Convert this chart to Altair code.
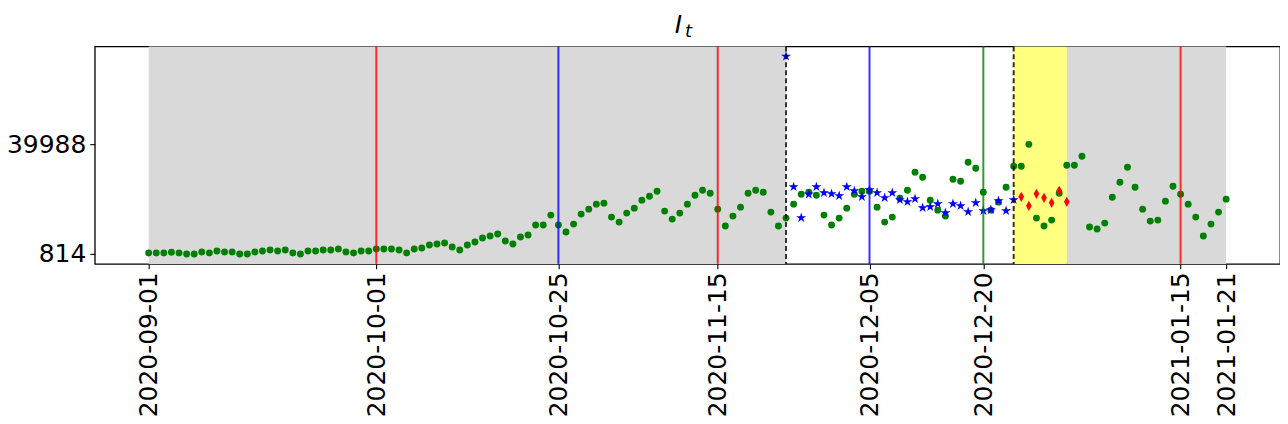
import altair as alt
import pandas as pd

# ---- data ----
start = "2020-09-01"
green_values = [
    # Sep
    1170, 1170, 1170, 1408, 1170, 814, 814, 1526, 1170, 1882,
    1526, 1526, 814, 814, 1526, 1882, 2238, 1882, 2238, 1170,
    814, 1882, 1882, 2238, 2238, 2595, 1526, 1170, 1882, 1882,
    # Oct
    2595, 2595, 2595, 2238, 1170, 2595, 2951, 4019, 4375, 4731,
    3307, 2238, 4019, 5087, 6512, 7224, 7936, 5443, 4375, 6868,
    7580, 11141, 11141, 14702, 11141, 8648, 11497, 15058, 16839, 18619,
    18975,
    # Nov
    13990, 12209, 15414, 17195, 20043, 21468, 23248, 16127, 13278, 15414,
    18619, 21824, 23604, 22536, 16839, 10785, 14346, 17551, 22536, 23604,
    22892, 15770, 10785, 13634, 18619, 22180, 22892, 21824, 14702, 11141,
    # Dec
    13634, 17195, 22180, 23248, 23248, 17551, 12209, 13990, 20756, 23604,
    30014, 28234, 20043, 16482, 14346, 27522, 26809, 33575, 31439, 22892,
    16482, 19331, 24673, 32151, 32151, 39988, 13634, 10785, 12921, 22536,
    32507,
    # Jan
    32507, 35712, 10429, 9717, 11853, 21112, 26453, 31795, 24673, 16839,
    12565, 12921, 19687, 25029, 22180, 18619, 13990, 7224, 11497, 15770,
    20400,
]
star_start = "2020-11-24"
star_values = [
    71441, 24791, 13752, 22180, 24791, 22655, 22299, 21587, 24791, 23367,
    21230, 23723, 22655, 20874, 22655, 20162, 19450, 20518, 17313, 17669,
    18738, 15533, 18738, 18026, 15889, 19094, 16245, 16601, 19806, 16245,
    20162,
]
diamond_start = "2020-12-25"
diamond_values = [21230, 18026, 22299, 20874, 19094, 23367, 19450]

tick_dates = ["2020-09-01", "2020-10-01", "2020-10-25", "2020-11-15",
              "2020-12-05", "2020-12-20", "2021-01-15", "2021-01-21"]
y_ticks = [814, 39988]

region_starts = ["2020-09-01", "2020-12-31", "2020-12-24"]
region_ends = ["2020-11-24", "2021-01-21", "2020-12-31"]
region_colors = ["#d9d9d9", "#d9d9d9", "#ffff80"]

vline_dates = ["2020-10-01", "2020-11-15", "2021-01-15", "2020-10-25", "2020-12-05", "2020-12-20"]
vline_colors = ["#ff0000", "#ff0000", "#ff0000", "#0000ff", "#0000ff", "#008000"]
dash_dates = ["2020-11-24", "2020-12-24"]

x_domain = [-7.1, 149.1]
y_domain = [-2720, 74980]

# ---- build tables ----
t0 = pd.Timestamp(start)


def day(s):
    return (pd.Timestamp(s) - t0).days


def series(first, vals):
    d0 = day(first)
    return pd.DataFrame({"day": [d0 + i for i in range(len(vals))], "v": vals})


green = series(start, green_values)
stars = series(star_start, star_values)
diamonds = series(diamond_start, diamond_values)
regions = pd.DataFrame({"s": [day(a) for a in region_starts],
                        "e": [day(b) for b in region_ends],
                        "c": region_colors})
vlines = pd.DataFrame({"day": [day(a) for a in vline_dates], "c": vline_colors})
dashes = pd.DataFrame({"day": [day(a) for a in dash_dates]})

tick_days = [day(d) for d in tick_dates]
label_expr = ""
for dd, lab in zip(tick_days, tick_dates):
    label_expr += f"datum.value == {dd} ? '{lab}' : "
label_expr += "''"

W, H = 1188, 218
FONT = "DejaVu Sans"

xs = alt.Scale(domain=x_domain, nice=False, zero=False)
ys = alt.Scale(domain=y_domain, nice=False, zero=False)

xaxis = alt.Axis(values=tick_days, labelExpr=label_expr, title=None, grid=False,
                 domain=False, labelAngle=270, labelAlign="right", labelBaseline="middle",
                 labelFontSize=25, labelFont=FONT, labelColor="black", tickColor="black",
                 tickSize=5, tickWidth=1.1, labelPadding=3, labelOverlap=False,
                 labelFlush=False, labelBound=False)
yaxis = alt.Axis(values=y_ticks, format="d", title=None, grid=False, domain=False,
                 labelFontSize=25, labelFont=FONT, labelColor="black", tickColor="black",
                 tickSize=5, tickWidth=1.1, labelPadding=4, labelOverlap=False,
                 labelFlush=False, labelBound=False)

reg = alt.Chart(regions).mark_rect().encode(
    x=alt.X("s:Q", scale=xs, axis=xaxis),
    x2="e:Q",
    y=alt.value(0), y2=alt.value(H),
    color=alt.Color("c:N", scale=None),
)

g = alt.Chart(green).mark_point(shape="circle", filled=True, size=48, opacity=1,
                                 color="#008000", strokeWidth=0).encode(
    x=alt.X("day:Q", scale=xs, axis=xaxis),
    y=alt.Y("v:Q", scale=ys, axis=yaxis),
)

star_path = ("M0,-1L0.2245,-0.309L0.951,-0.309L0.3633,0.118L0.5878,0.809L0,0.382"
             "L-0.5878,0.809L-0.3633,0.118L-0.951,-0.309L-0.2245,-0.309Z")
s = alt.Chart(stars).mark_point(shape=star_path, filled=True, size=110, opacity=1,
                                 color="#0000ff", strokeWidth=0).encode(
    x=alt.X("day:Q", scale=xs), y=alt.Y("v:Q", scale=ys),
)

diamond_path = "M0,-1L0.56,0L0,1L-0.56,0Z"
dmd = alt.Chart(diamonds).mark_point(shape=diamond_path, filled=True, size=105, opacity=1,
                                      color="#ff0000", strokeWidth=0).encode(
    x=alt.X("day:Q", scale=xs), y=alt.Y("v:Q", scale=ys),
)

vl = alt.Chart(vlines).mark_rule(strokeWidth=2, opacity=0.8).encode(
    x=alt.X("day:Q", scale=xs),
    y=alt.value(0), y2=alt.value(H),
    color=alt.Color("c:N", scale=None),
)

dl = alt.Chart(dashes).mark_rule(strokeWidth=2, opacity=0.8, color="black",
                                 strokeDash=[5, 3]).encode(
    x=alt.X("day:Q", scale=xs),
    y=alt.value(0), y2=alt.value(H),
)

one = pd.DataFrame({"k": [0]})
title_i = alt.Chart(one).mark_text(text="I", font=FONT, fontStyle="italic", fontSize=25,
                                   align="center", baseline="alphabetic", color="black").encode(
    x=alt.value(585), y=alt.value(-13))
title_t = alt.Chart(one).mark_text(text="t", font=FONT, fontStyle="italic", fontSize=18,
                                   align="center", baseline="alphabetic", color="black").encode(
    x=alt.value(595), y=alt.value(-9))

chart = alt.layer(reg, g, s, dmd, vl, dl, title_i, title_t).properties(
    width=W, height=H,
    background="white",
    autosize=alt.AutoSizeParams(type="none"),
    padding={"left": 87, "top": 38, "right": 0, "bottom": 152},
).configure_view(stroke="black", strokeWidth=1.3, strokeOpacity=1)

chart.save("out.html", embed_options={"renderer": "svg", "actions": False})
